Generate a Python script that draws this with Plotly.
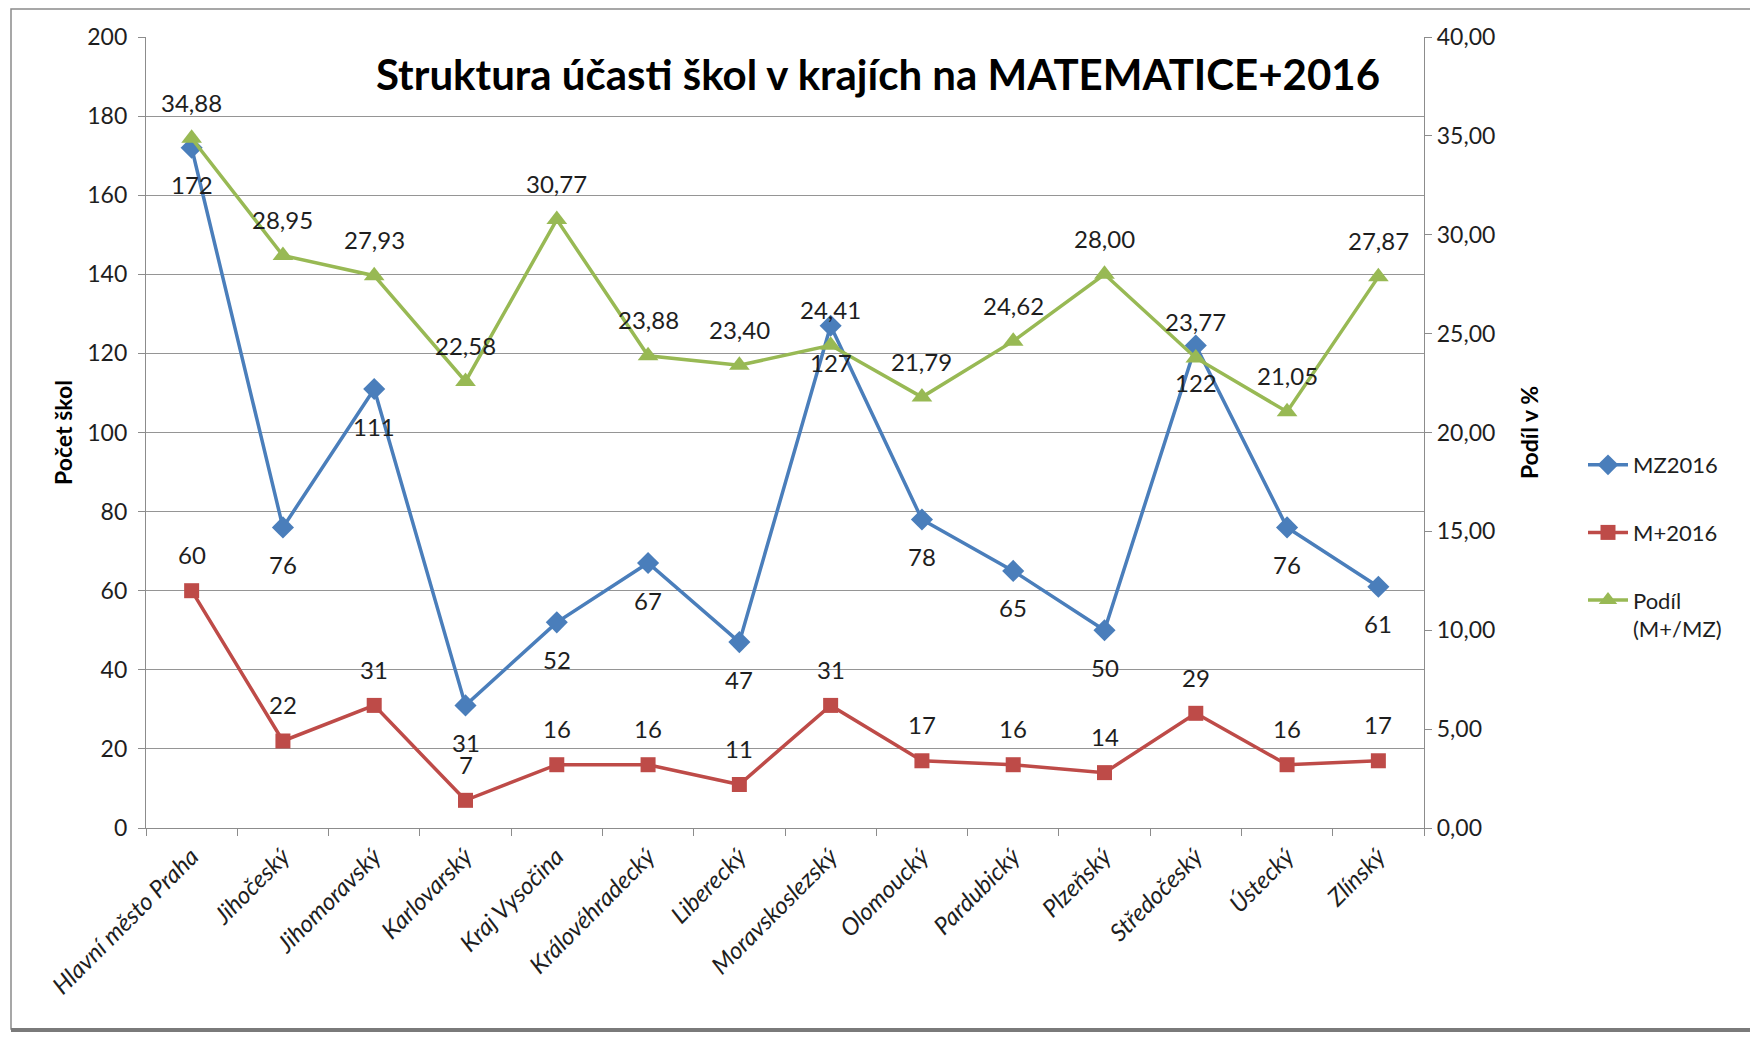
import plotly.graph_objects as go

# Data
kraje = ['Hlavní město Praha', 'Jihočeský', 'Jihomoravský', 'Karlovarský', 'Kraj Vysočina',
         'Královéhradecký', 'Liberecký', 'Moravskoslezský', 'Olomoucký', 'Pardubický',
         'Plzeňský', 'Středočeský', 'Ústecký', 'Zlínský']
mz2016 = [172, 76, 111, 31, 52, 67, 47, 127, 78, 65, 50, 122, 76, 61]
mplus2016 = [60, 22, 31, 7, 16, 16, 11, 31, 17, 16, 14, 29, 16, 17]
podil = [34.88, 28.95, 27.93, 22.58, 30.77, 23.88, 23.40, 24.41, 21.79, 24.62, 28.00, 23.77, 21.05, 27.87]

BLUE = '#4A7EBB'
RED = '#BE4B48'
GREEN = '#98B954'
FONT = 'Lato'
TXT = '#1e1e1e'

# page offset of the plot div (body margin)
OFF = 8
W, H = 1758 - OFF, 1040 - OFF
L, R, T, B = 146 - OFF, 334, 37 - OFF, 212
pw, ph = W - L - R, H - T - B


def px_x(p):
    return (p - OFF - L) / pw


def px_y(p):
    return (H - B - (p - OFF)) / ph


fig = go.Figure()

fig.add_trace(go.Scatter(
    x=kraje, y=mz2016, name='MZ2016', mode='lines+markers',
    line=dict(color=BLUE, width=3.5),
    marker=dict(symbol='diamond', size=17, color=BLUE),
    legendgroup='a',
))
fig.add_trace(go.Scatter(
    x=kraje, y=mplus2016, name='M+2016', mode='lines+markers',
    line=dict(color=RED, width=3.5),
    marker=dict(symbol='square', size=15, color=RED),
    legendgroup='b',
))
fig.add_trace(go.Scatter(
    x=kraje, y=podil, name='Podíl<br>(M+/MZ)', mode='lines+markers',
    line=dict(color=GREEN, width=3.5),
    marker=dict(symbol='triangle-up', size=18, color=GREEN),
    yaxis='y2', legendgroup='c',
))

# data labels
annotations = []
for k, v in zip(kraje, mz2016):
    annotations.append(dict(x=k, y=v, xref='x', yref='y', text=str(v), showarrow=False,
                            yshift=-37, font=dict(family=FONT, size=24, color=TXT)))
for k, v in zip(kraje, mplus2016):
    annotations.append(dict(x=k, y=v, xref='x', yref='y', text=str(v), showarrow=False,
                            yshift=36, font=dict(family=FONT, size=24, color=TXT)))
for k, v in zip(kraje, podil):
    annotations.append(dict(x=k, y=v, xref='x', yref='y2', text=f'{v:.2f}'.replace('.', ','),
                            showarrow=False, yshift=36, font=dict(family=FONT, size=24, color=TXT)))

annotations.append(dict(
    x=px_x(878), y=px_y(74), xref='paper', yref='paper', xanchor='center', yanchor='middle',
    text='<b>Struktura účasti škol v krajích na MATEMATICE+2016</b>', showarrow=False,
    font=dict(family=FONT, size=42, color='#000000'),
))

shapes = [
    dict(type='rect', xref='paper', yref='paper', x0=px_x(11), x1=px_x(1752), y0=px_y(1029), y1=px_y(9),
         line=dict(color='#8a8a8a', width=1.5), layer='below'),
    dict(type='line', xref='paper', yref='paper', x0=px_x(11), x1=px_x(1752), y0=px_y(1030), y1=px_y(1030),
         line=dict(color='#7a7a7a', width=4)),
]

fig.update_layout(
    width=W, height=H,
    margin=dict(l=L, r=R, t=T, b=B),
    paper_bgcolor='white', plot_bgcolor='white',
    separators=', ',
    annotations=annotations,
    shapes=shapes,
    showlegend=True,
    legend=dict(
        x=px_x(1583), y=px_y(444), xanchor='left', yanchor='top',
        font=dict(family=FONT, size=22, color=TXT),
        tracegroupgap=36, valign='top', itemwidth=40,
        bgcolor='rgba(0,0,0,0)',
    ),
    xaxis=dict(
        type='category', range=[-0.5, len(kraje) - 0.5],
        showgrid=False, showline=True, linecolor='#8c8c8c', linewidth=1.3,
        ticks='outside', tickson='boundaries', ticklen=7, tickcolor='#8c8c8c',
        tickangle=-45, ticklabelstandoff=4,
        tickfont=dict(family=FONT, size=24, color=TXT, style='italic'),
    ),
    yaxis=dict(
        range=[0, 200], dtick=20, showgrid=True, gridcolor='#959595', gridwidth=1.3,
        showline=True, linecolor='#8c8c8c', linewidth=1.3,
        ticks='outside', ticklen=7, tickcolor='#8c8c8c', ticklabelstandoff=6,
        tickfont=dict(family=FONT, size=23, color=TXT),
        title=dict(text='<b>Počet škol</b>', font=dict(family=FONT, size=23, color='#000000'), standoff=8),
        zeroline=False,
    ),
    yaxis2=dict(
        range=[0, 40], dtick=5, tickformat='.2f', overlaying='y', side='right',
        showgrid=False, showline=True, linecolor='#8c8c8c', linewidth=1.3,
        ticks='outside', ticklen=7, tickcolor='#8c8c8c',
        tickfont=dict(family=FONT, size=23, color=TXT),
        title=dict(text='<b>Podíl v %</b>', font=dict(family=FONT, size=23, color='#000000'), standoff=27),
        zeroline=False,
    ),
)

fig.write_html('out.html')
